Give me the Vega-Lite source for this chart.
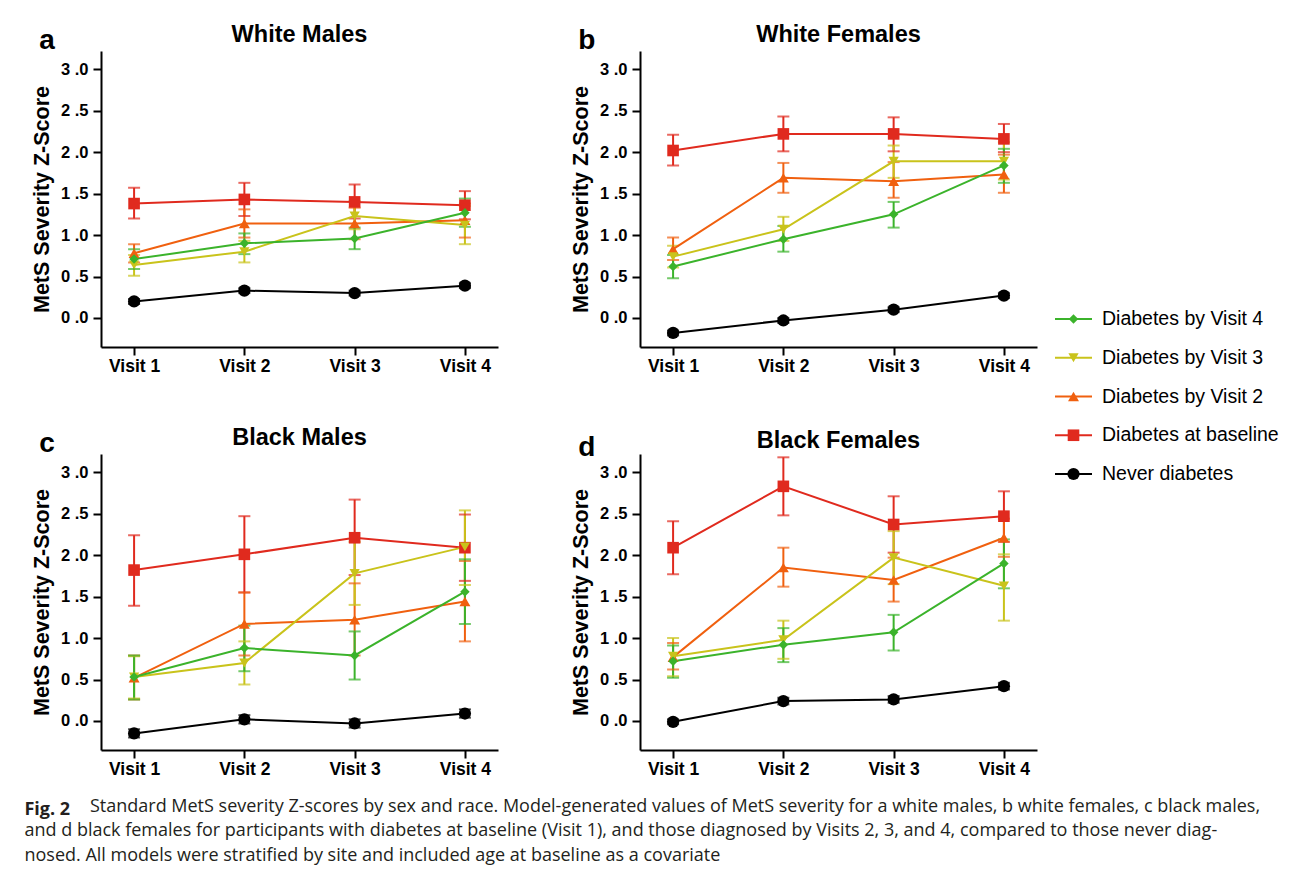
{
  "$schema": "https://vega.github.io/schema/vega-lite/v6.json",
  "padding": {"left": 24, "top": 22, "right": 5, "bottom": 5},
  "background": "white",
  "datasets": {
    "pts": [
      {"p":"a","g":"Never diabetes","v":1,"z":0.20,"lo":0.17,"hi":0.23},
      {"p":"a","g":"Never diabetes","v":2,"z":0.33,"lo":0.30,"hi":0.36},
      {"p":"a","g":"Never diabetes","v":3,"z":0.30,"lo":0.27,"hi":0.33},
      {"p":"a","g":"Never diabetes","v":4,"z":0.39,"lo":0.36,"hi":0.42},
      {"p":"a","g":"Diabetes at baseline","v":1,"z":1.38,"lo":1.20,"hi":1.57},
      {"p":"a","g":"Diabetes at baseline","v":2,"z":1.43,"lo":1.23,"hi":1.63},
      {"p":"a","g":"Diabetes at baseline","v":3,"z":1.40,"lo":1.20,"hi":1.61},
      {"p":"a","g":"Diabetes at baseline","v":4,"z":1.36,"lo":1.19,"hi":1.53},
      {"p":"a","g":"Diabetes by Visit 2","v":1,"z":0.78,"lo":0.67,"hi":0.89},
      {"p":"a","g":"Diabetes by Visit 2","v":2,"z":1.14,"lo":0.97,"hi":1.31},
      {"p":"a","g":"Diabetes by Visit 2","v":3,"z":1.14,"lo":0.95,"hi":1.33},
      {"p":"a","g":"Diabetes by Visit 2","v":4,"z":1.18,"lo":0.97,"hi":1.38},
      {"p":"a","g":"Diabetes by Visit 3","v":1,"z":0.64,"lo":0.51,"hi":0.76},
      {"p":"a","g":"Diabetes by Visit 3","v":2,"z":0.80,"lo":0.67,"hi":0.93},
      {"p":"a","g":"Diabetes by Visit 3","v":3,"z":1.23,"lo":1.07,"hi":1.41},
      {"p":"a","g":"Diabetes by Visit 3","v":4,"z":1.12,"lo":0.89,"hi":1.35},
      {"p":"a","g":"Diabetes by Visit 4","v":1,"z":0.71,"lo":0.59,"hi":0.83},
      {"p":"a","g":"Diabetes by Visit 4","v":2,"z":0.90,"lo":0.77,"hi":1.02},
      {"p":"a","g":"Diabetes by Visit 4","v":3,"z":0.96,"lo":0.83,"hi":1.09},
      {"p":"a","g":"Diabetes by Visit 4","v":4,"z":1.27,"lo":1.10,"hi":1.44},

      {"p":"b","g":"Never diabetes","v":1,"z":-0.18,"lo":-0.21,"hi":-0.15},
      {"p":"b","g":"Never diabetes","v":2,"z":-0.03,"lo":-0.06,"hi":0.00},
      {"p":"b","g":"Never diabetes","v":3,"z":0.10,"lo":0.07,"hi":0.13},
      {"p":"b","g":"Never diabetes","v":4,"z":0.27,"lo":0.24,"hi":0.30},
      {"p":"b","g":"Diabetes at baseline","v":1,"z":2.02,"lo":1.84,"hi":2.21},
      {"p":"b","g":"Diabetes at baseline","v":2,"z":2.22,"lo":2.01,"hi":2.43},
      {"p":"b","g":"Diabetes at baseline","v":3,"z":2.22,"lo":2.01,"hi":2.42},
      {"p":"b","g":"Diabetes at baseline","v":4,"z":2.16,"lo":2.00,"hi":2.34},
      {"p":"b","g":"Diabetes by Visit 2","v":1,"z":0.83,"lo":0.70,"hi":0.97},
      {"p":"b","g":"Diabetes by Visit 2","v":2,"z":1.69,"lo":1.51,"hi":1.87},
      {"p":"b","g":"Diabetes by Visit 2","v":3,"z":1.65,"lo":1.45,"hi":1.88},
      {"p":"b","g":"Diabetes by Visit 2","v":4,"z":1.73,"lo":1.51,"hi":1.97},
      {"p":"b","g":"Diabetes by Visit 3","v":1,"z":0.74,"lo":0.61,"hi":0.87},
      {"p":"b","g":"Diabetes by Visit 3","v":2,"z":1.07,"lo":0.93,"hi":1.22},
      {"p":"b","g":"Diabetes by Visit 3","v":3,"z":1.89,"lo":1.69,"hi":2.08},
      {"p":"b","g":"Diabetes by Visit 3","v":4,"z":1.89,"lo":1.67,"hi":2.12},
      {"p":"b","g":"Diabetes by Visit 4","v":1,"z":0.62,"lo":0.48,"hi":0.76},
      {"p":"b","g":"Diabetes by Visit 4","v":2,"z":0.95,"lo":0.80,"hi":1.11},
      {"p":"b","g":"Diabetes by Visit 4","v":3,"z":1.25,"lo":1.09,"hi":1.40},
      {"p":"b","g":"Diabetes by Visit 4","v":4,"z":1.84,"lo":1.63,"hi":2.04},

      {"p":"c","g":"Never diabetes","v":1,"z":-0.15,"lo":-0.20,"hi":-0.10},
      {"p":"c","g":"Never diabetes","v":2,"z":0.02,"lo":-0.03,"hi":0.07},
      {"p":"c","g":"Never diabetes","v":3,"z":-0.03,"lo":-0.08,"hi":0.02},
      {"p":"c","g":"Never diabetes","v":4,"z":0.09,"lo":0.04,"hi":0.14},
      {"p":"c","g":"Diabetes at baseline","v":1,"z":1.82,"lo":1.39,"hi":2.24},
      {"p":"c","g":"Diabetes at baseline","v":2,"z":2.01,"lo":1.55,"hi":2.47},
      {"p":"c","g":"Diabetes at baseline","v":3,"z":2.21,"lo":1.76,"hi":2.67},
      {"p":"c","g":"Diabetes at baseline","v":4,"z":2.09,"lo":1.69,"hi":2.49},
      {"p":"c","g":"Diabetes by Visit 2","v":1,"z":0.52,"lo":0.26,"hi":0.79},
      {"p":"c","g":"Diabetes by Visit 2","v":2,"z":1.17,"lo":0.79,"hi":1.55},
      {"p":"c","g":"Diabetes by Visit 2","v":3,"z":1.22,"lo":0.79,"hi":1.66},
      {"p":"c","g":"Diabetes by Visit 2","v":4,"z":1.44,"lo":0.96,"hi":1.93},
      {"p":"c","g":"Diabetes by Visit 3","v":1,"z":0.53,"lo":0.27,"hi":0.78},
      {"p":"c","g":"Diabetes by Visit 3","v":2,"z":0.70,"lo":0.44,"hi":0.96},
      {"p":"c","g":"Diabetes by Visit 3","v":3,"z":1.78,"lo":1.40,"hi":2.16},
      {"p":"c","g":"Diabetes by Visit 3","v":4,"z":2.10,"lo":1.64,"hi":2.54},
      {"p":"c","g":"Diabetes by Visit 4","v":1,"z":0.53,"lo":0.26,"hi":0.79},
      {"p":"c","g":"Diabetes by Visit 4","v":2,"z":0.88,"lo":0.60,"hi":1.15},
      {"p":"c","g":"Diabetes by Visit 4","v":3,"z":0.79,"lo":0.50,"hi":1.08},
      {"p":"c","g":"Diabetes by Visit 4","v":4,"z":1.56,"lo":1.17,"hi":1.95},

      {"p":"d","g":"Never diabetes","v":1,"z":-0.01,"lo":-0.04,"hi":0.02},
      {"p":"d","g":"Never diabetes","v":2,"z":0.24,"lo":0.20,"hi":0.28},
      {"p":"d","g":"Never diabetes","v":3,"z":0.26,"lo":0.22,"hi":0.30},
      {"p":"d","g":"Never diabetes","v":4,"z":0.42,"lo":0.38,"hi":0.46},
      {"p":"d","g":"Diabetes at baseline","v":1,"z":2.09,"lo":1.77,"hi":2.41},
      {"p":"d","g":"Diabetes at baseline","v":2,"z":2.83,"lo":2.48,"hi":3.18},
      {"p":"d","g":"Diabetes at baseline","v":3,"z":2.37,"lo":2.03,"hi":2.71},
      {"p":"d","g":"Diabetes at baseline","v":4,"z":2.47,"lo":2.16,"hi":2.77},
      {"p":"d","g":"Diabetes by Visit 2","v":1,"z":0.77,"lo":0.62,"hi":0.94},
      {"p":"d","g":"Diabetes by Visit 2","v":2,"z":1.85,"lo":1.62,"hi":2.09},
      {"p":"d","g":"Diabetes by Visit 2","v":3,"z":1.70,"lo":1.44,"hi":1.97},
      {"p":"d","g":"Diabetes by Visit 2","v":4,"z":2.21,"lo":1.98,"hi":2.44},
      {"p":"d","g":"Diabetes by Visit 3","v":1,"z":0.78,"lo":0.54,"hi":1.00},
      {"p":"d","g":"Diabetes by Visit 3","v":2,"z":0.98,"lo":0.75,"hi":1.21},
      {"p":"d","g":"Diabetes by Visit 3","v":3,"z":1.97,"lo":1.65,"hi":2.29},
      {"p":"d","g":"Diabetes by Visit 3","v":4,"z":1.63,"lo":1.21,"hi":2.01},
      {"p":"d","g":"Diabetes by Visit 4","v":1,"z":0.72,"lo":0.52,"hi":0.91},
      {"p":"d","g":"Diabetes by Visit 4","v":2,"z":0.92,"lo":0.71,"hi":1.12},
      {"p":"d","g":"Diabetes by Visit 4","v":3,"z":1.07,"lo":0.85,"hi":1.28},
      {"p":"d","g":"Diabetes by Visit 4","v":4,"z":1.90,"lo":1.60,"hi":2.19}
    ],
    "letters": [
      {"p":"a","letter":"a"},
      {"p":"b","letter":"b"},
      {"p":"c","letter":"c"},
      {"p":"d","letter":"d"}
    ],
    "legend": [
      {"g":"Diabetes by Visit 4"},
      {"g":"Diabetes by Visit 3"},
      {"g":"Diabetes by Visit 2"},
      {"g":"Diabetes at baseline"},
      {"g":"Never diabetes"}
    ]
  },
  "title": {
    "text": "Fig. 2",
    "subtitle": [
      "\u200b\u00a0\u00a0\u00a0\u00a0\u00a0\u00a0\u00a0\u00a0\u00a0\u00a0\u00a0\u00a0\u00a0\u00a0Standard MetS severity Z-scores by sex and race. Model-generated values of MetS severity for a white males, b white females, c black males,",
      "and d black females for participants with diabetes at baseline (Visit 1), and those diagnosed by Visits 2, 3, and 4, compared to those never diag-",
      "nosed. All models were stratified by site and included age at baseline as a covariate"
    ],
    "orient": "bottom",
    "anchor": "start",
    "frame": "bounds",
    "font": "Open Sans",
    "fontSize": 18,
    "fontWeight": "bold",
    "color": "#231f20",
    "subtitleFont": "Open Sans",
    "subtitleFontSize": 18,
    "subtitleFontWeight": "normal",
    "subtitleColor": "#231f20",
    "subtitleLineHeight": 24.5,
    "subtitlePadding": -21,
    "offset": 23,
    "dx": -7
  },
  "spacing": 17,
  "hconcat": [
    {
      "spacing": 50,
      "vconcat": [
        {
          "spacing": 72,
          "hconcat": [
            {
              "width": 397, "height": 296,
              "title": {"text": "White Males"},
              "layer": [
                {"data": {"name": "pts"}, "transform": [{"filter": "datum.p == 'a'"}],
                 "mark": {"type": "rule", "strokeWidth": 2},
                 "encoding": {
                   "x": {"field": "v", "type": "quantitative", "scale": {"domain": [0.7, 4.3], "nice": false, "zero": false}, "axis": {"values": [1,2,3,4], "labelExpr": "'Visit ' + datum.value", "title": null, "labelPadding": 2, "labelFlush": false}},
                   "y": {"field": "lo", "type": "quantitative", "scale": {"domain": [-0.35, 3.22], "nice": false, "zero": false}, "axis": {"values": [0,0.5,1,1.5,2,2.5,3], "labelExpr": "replace(format(datum.value, '.1f'), '.', ' .')", "labelFontSize": 16.5, "labelPadding": 5, "title": "MetS Severity Z-Score", "titlePadding": 7}},
                   "y2": {"field": "hi"},
                   "color": {"field": "g", "type": "nominal", "scale": {"domain": ["Diabetes by Visit 4","Diabetes by Visit 3","Diabetes by Visit 2","Diabetes at baseline","Never diabetes"], "range": ["#3bb32b","#c9c31b","#f0600f","#e02a1e","#000000"]}, "legend": null}
                 }},
                {"data": {"name": "pts"}, "transform": [{"filter": "datum.p == 'a'"}],
                 "mark": {"type": "tick", "orient": "horizontal", "thickness": 2, "size": 12},
                 "encoding": {"x": {"field": "v", "type": "quantitative"}, "y": {"field": "lo", "type": "quantitative"}, "color": {"field": "g", "type": "nominal", "legend": null}}},
                {"data": {"name": "pts"}, "transform": [{"filter": "datum.p == 'a'"}],
                 "mark": {"type": "tick", "orient": "horizontal", "thickness": 2, "size": 12},
                 "encoding": {"x": {"field": "v", "type": "quantitative"}, "y": {"field": "hi", "type": "quantitative"}, "color": {"field": "g", "type": "nominal", "legend": null}}},
                {"data": {"name": "pts"}, "transform": [{"filter": "datum.p == 'a'"}],
                 "mark": {"type": "line", "strokeWidth": 2},
                 "encoding": {"x": {"field": "v", "type": "quantitative"}, "y": {"field": "z", "type": "quantitative"}, "color": {"field": "g", "type": "nominal", "legend": null}}},
                {"data": {"name": "pts"}, "transform": [{"filter": "datum.p == 'a'"}],
                 "mark": {"type": "point", "filled": true, "opacity": 1},
                 "encoding": {"x": {"field": "v", "type": "quantitative"}, "y": {"field": "z", "type": "quantitative"}, "color": {"field": "g", "type": "nominal", "legend": null},
                   "shape": {"field": "g", "type": "nominal", "scale": {"domain": ["Diabetes by Visit 4","Diabetes by Visit 3","Diabetes by Visit 2","Diabetes at baseline","Never diabetes"], "range": ["diamond","triangle-down","triangle-up","square","circle"]}, "legend": null},
                   "size": {"field": "g", "type": "ordinal", "scale": {"domain": ["Diabetes by Visit 4","Diabetes by Visit 3","Diabetes by Visit 2","Diabetes at baseline","Never diabetes"], "range": [90,150,140,130,120]}, "legend": null}}},
                {"data": {"name": "letters"}, "transform": [{"filter": "datum.p == 'a'"}],
                 "mark": {"type": "text", "align": "left", "baseline": "alphabetic", "fontSize": 28, "fontWeight": "bold", "font": "Liberation Sans", "color": "black"},
                 "encoding": {"x": {"datum": 0.14, "type": "quantitative"}, "y": {"datum": 3.24, "type": "quantitative"}, "text": {"field": "letter"}}}
              ]
            },
            {
              "width": 397, "height": 296,
              "title": {"text": "White Females"},
              "layer": [
                {"data": {"name": "pts"}, "transform": [{"filter": "datum.p == 'b'"}],
                 "mark": {"type": "rule", "strokeWidth": 2},
                 "encoding": {
                   "x": {"field": "v", "type": "quantitative", "scale": {"domain": [0.7, 4.3], "nice": false, "zero": false}, "axis": {"values": [1,2,3,4], "labelExpr": "'Visit ' + datum.value", "title": null, "labelPadding": 2, "labelFlush": false}},
                   "y": {"field": "lo", "type": "quantitative", "scale": {"domain": [-0.35, 3.22], "nice": false, "zero": false}, "axis": {"values": [0,0.5,1,1.5,2,2.5,3], "labelExpr": "replace(format(datum.value, '.1f'), '.', ' .')", "labelFontSize": 16.5, "labelPadding": 5, "title": "MetS Severity Z-Score", "titlePadding": 7}},
                   "y2": {"field": "hi"},
                   "color": {"field": "g", "type": "nominal", "scale": {"domain": ["Diabetes by Visit 4","Diabetes by Visit 3","Diabetes by Visit 2","Diabetes at baseline","Never diabetes"], "range": ["#3bb32b","#c9c31b","#f0600f","#e02a1e","#000000"]}, "legend": null}
                 }},
                {"data": {"name": "pts"}, "transform": [{"filter": "datum.p == 'b'"}],
                 "mark": {"type": "tick", "orient": "horizontal", "thickness": 2, "size": 12},
                 "encoding": {"x": {"field": "v", "type": "quantitative"}, "y": {"field": "lo", "type": "quantitative"}, "color": {"field": "g", "type": "nominal", "legend": null}}},
                {"data": {"name": "pts"}, "transform": [{"filter": "datum.p == 'b'"}],
                 "mark": {"type": "tick", "orient": "horizontal", "thickness": 2, "size": 12},
                 "encoding": {"x": {"field": "v", "type": "quantitative"}, "y": {"field": "hi", "type": "quantitative"}, "color": {"field": "g", "type": "nominal", "legend": null}}},
                {"data": {"name": "pts"}, "transform": [{"filter": "datum.p == 'b'"}],
                 "mark": {"type": "line", "strokeWidth": 2},
                 "encoding": {"x": {"field": "v", "type": "quantitative"}, "y": {"field": "z", "type": "quantitative"}, "color": {"field": "g", "type": "nominal", "legend": null}}},
                {"data": {"name": "pts"}, "transform": [{"filter": "datum.p == 'b'"}],
                 "mark": {"type": "point", "filled": true, "opacity": 1},
                 "encoding": {"x": {"field": "v", "type": "quantitative"}, "y": {"field": "z", "type": "quantitative"}, "color": {"field": "g", "type": "nominal", "legend": null},
                   "shape": {"field": "g", "type": "nominal", "scale": {"domain": ["Diabetes by Visit 4","Diabetes by Visit 3","Diabetes by Visit 2","Diabetes at baseline","Never diabetes"], "range": ["diamond","triangle-down","triangle-up","square","circle"]}, "legend": null},
                   "size": {"field": "g", "type": "ordinal", "scale": {"domain": ["Diabetes by Visit 4","Diabetes by Visit 3","Diabetes by Visit 2","Diabetes at baseline","Never diabetes"], "range": [90,150,140,130,120]}, "legend": null}}},
                {"data": {"name": "letters"}, "transform": [{"filter": "datum.p == 'b'"}],
                 "mark": {"type": "text", "align": "left", "baseline": "alphabetic", "fontSize": 28, "fontWeight": "bold", "font": "Liberation Sans", "color": "black"},
                 "encoding": {"x": {"datum": 0.14, "type": "quantitative"}, "y": {"datum": 3.24, "type": "quantitative"}, "text": {"field": "letter"}}}
              ]
            }
          ]
        },
        {
          "spacing": 72,
          "hconcat": [
            {
              "width": 397, "height": 296,
              "title": {"text": "Black Males"},
              "layer": [
                {"data": {"name": "pts"}, "transform": [{"filter": "datum.p == 'c'"}],
                 "mark": {"type": "rule", "strokeWidth": 2},
                 "encoding": {
                   "x": {"field": "v", "type": "quantitative", "scale": {"domain": [0.7, 4.3], "nice": false, "zero": false}, "axis": {"values": [1,2,3,4], "labelExpr": "'Visit ' + datum.value", "title": null, "labelPadding": 2, "labelFlush": false}},
                   "y": {"field": "lo", "type": "quantitative", "scale": {"domain": [-0.35, 3.22], "nice": false, "zero": false}, "axis": {"values": [0,0.5,1,1.5,2,2.5,3], "labelExpr": "replace(format(datum.value, '.1f'), '.', ' .')", "labelFontSize": 16.5, "labelPadding": 5, "title": "MetS Severity Z-Score", "titlePadding": 7}},
                   "y2": {"field": "hi"},
                   "color": {"field": "g", "type": "nominal", "scale": {"domain": ["Diabetes by Visit 4","Diabetes by Visit 3","Diabetes by Visit 2","Diabetes at baseline","Never diabetes"], "range": ["#3bb32b","#c9c31b","#f0600f","#e02a1e","#000000"]}, "legend": null}
                 }},
                {"data": {"name": "pts"}, "transform": [{"filter": "datum.p == 'c'"}],
                 "mark": {"type": "tick", "orient": "horizontal", "thickness": 2, "size": 12},
                 "encoding": {"x": {"field": "v", "type": "quantitative"}, "y": {"field": "lo", "type": "quantitative"}, "color": {"field": "g", "type": "nominal", "legend": null}}},
                {"data": {"name": "pts"}, "transform": [{"filter": "datum.p == 'c'"}],
                 "mark": {"type": "tick", "orient": "horizontal", "thickness": 2, "size": 12},
                 "encoding": {"x": {"field": "v", "type": "quantitative"}, "y": {"field": "hi", "type": "quantitative"}, "color": {"field": "g", "type": "nominal", "legend": null}}},
                {"data": {"name": "pts"}, "transform": [{"filter": "datum.p == 'c'"}],
                 "mark": {"type": "line", "strokeWidth": 2},
                 "encoding": {"x": {"field": "v", "type": "quantitative"}, "y": {"field": "z", "type": "quantitative"}, "color": {"field": "g", "type": "nominal", "legend": null}}},
                {"data": {"name": "pts"}, "transform": [{"filter": "datum.p == 'c'"}],
                 "mark": {"type": "point", "filled": true, "opacity": 1},
                 "encoding": {"x": {"field": "v", "type": "quantitative"}, "y": {"field": "z", "type": "quantitative"}, "color": {"field": "g", "type": "nominal", "legend": null},
                   "shape": {"field": "g", "type": "nominal", "scale": {"domain": ["Diabetes by Visit 4","Diabetes by Visit 3","Diabetes by Visit 2","Diabetes at baseline","Never diabetes"], "range": ["diamond","triangle-down","triangle-up","square","circle"]}, "legend": null},
                   "size": {"field": "g", "type": "ordinal", "scale": {"domain": ["Diabetes by Visit 4","Diabetes by Visit 3","Diabetes by Visit 2","Diabetes at baseline","Never diabetes"], "range": [90,150,140,130,120]}, "legend": null}}},
                {"data": {"name": "letters"}, "transform": [{"filter": "datum.p == 'c'"}],
                 "mark": {"type": "text", "align": "left", "baseline": "alphabetic", "fontSize": 28, "fontWeight": "bold", "font": "Liberation Sans", "color": "black"},
                 "encoding": {"x": {"datum": 0.14, "type": "quantitative"}, "y": {"datum": 3.24, "type": "quantitative"}, "text": {"field": "letter"}}}
              ]
            },
            {
              "width": 397, "height": 296,
              "title": {"text": "Black Females"},
              "layer": [
                {"data": {"name": "pts"}, "transform": [{"filter": "datum.p == 'd'"}],
                 "mark": {"type": "rule", "strokeWidth": 2},
                 "encoding": {
                   "x": {"field": "v", "type": "quantitative", "scale": {"domain": [0.7, 4.3], "nice": false, "zero": false}, "axis": {"values": [1,2,3,4], "labelExpr": "'Visit ' + datum.value", "title": null, "labelPadding": 2, "labelFlush": false}},
                   "y": {"field": "lo", "type": "quantitative", "scale": {"domain": [-0.35, 3.22], "nice": false, "zero": false}, "axis": {"values": [0,0.5,1,1.5,2,2.5,3], "labelExpr": "replace(format(datum.value, '.1f'), '.', ' .')", "labelFontSize": 16.5, "labelPadding": 5, "title": "MetS Severity Z-Score", "titlePadding": 7}},
                   "y2": {"field": "hi"},
                   "color": {"field": "g", "type": "nominal", "scale": {"domain": ["Diabetes by Visit 4","Diabetes by Visit 3","Diabetes by Visit 2","Diabetes at baseline","Never diabetes"], "range": ["#3bb32b","#c9c31b","#f0600f","#e02a1e","#000000"]}, "legend": null}
                 }},
                {"data": {"name": "pts"}, "transform": [{"filter": "datum.p == 'd'"}],
                 "mark": {"type": "tick", "orient": "horizontal", "thickness": 2, "size": 12},
                 "encoding": {"x": {"field": "v", "type": "quantitative"}, "y": {"field": "lo", "type": "quantitative"}, "color": {"field": "g", "type": "nominal", "legend": null}}},
                {"data": {"name": "pts"}, "transform": [{"filter": "datum.p == 'd'"}],
                 "mark": {"type": "tick", "orient": "horizontal", "thickness": 2, "size": 12},
                 "encoding": {"x": {"field": "v", "type": "quantitative"}, "y": {"field": "hi", "type": "quantitative"}, "color": {"field": "g", "type": "nominal", "legend": null}}},
                {"data": {"name": "pts"}, "transform": [{"filter": "datum.p == 'd'"}],
                 "mark": {"type": "line", "strokeWidth": 2},
                 "encoding": {"x": {"field": "v", "type": "quantitative"}, "y": {"field": "z", "type": "quantitative"}, "color": {"field": "g", "type": "nominal", "legend": null}}},
                {"data": {"name": "pts"}, "transform": [{"filter": "datum.p == 'd'"}],
                 "mark": {"type": "point", "filled": true, "opacity": 1},
                 "encoding": {"x": {"field": "v", "type": "quantitative"}, "y": {"field": "z", "type": "quantitative"}, "color": {"field": "g", "type": "nominal", "legend": null},
                   "shape": {"field": "g", "type": "nominal", "scale": {"domain": ["Diabetes by Visit 4","Diabetes by Visit 3","Diabetes by Visit 2","Diabetes at baseline","Never diabetes"], "range": ["diamond","triangle-down","triangle-up","square","circle"]}, "legend": null},
                   "size": {"field": "g", "type": "ordinal", "scale": {"domain": ["Diabetes by Visit 4","Diabetes by Visit 3","Diabetes by Visit 2","Diabetes at baseline","Never diabetes"], "range": [90,150,140,130,120]}, "legend": null}}},
                {"data": {"name": "letters"}, "transform": [{"filter": "datum.p == 'd'"}],
                 "mark": {"type": "text", "align": "left", "baseline": "alphabetic", "fontSize": 28, "fontWeight": "bold", "font": "Liberation Sans", "color": "black"},
                 "encoding": {"x": {"datum": 0.14, "type": "quantitative"}, "y": {"datum": 3.2, "type": "quantitative"}, "text": {"field": "letter"}}}
              ]
            }
          ]
        }
      ]
    },
    {
      "width": 37, "height": 440,
      "data": {"name": "legend"},
      "encoding": {
        "y": {"field": "g", "type": "nominal", "scale": {"type": "point", "domain": ["Diabetes by Visit 4","Diabetes by Visit 3","Diabetes by Visit 2","Diabetes at baseline","Never diabetes"], "range": [268, 423], "padding": 0}, "axis": null}
      },
      "layer": [
        {"mark": {"type": "rule", "strokeWidth": 2},
         "encoding": {"x": {"datum": 0, "type": "quantitative", "scale": {"domain": [0, 1], "nice": false}, "axis": null}, "x2": {"datum": 1},
           "color": {"field": "g", "type": "nominal", "scale": {"domain": ["Diabetes by Visit 4","Diabetes by Visit 3","Diabetes by Visit 2","Diabetes at baseline","Never diabetes"], "range": ["#3bb32b","#c9c31b","#f0600f","#e02a1e","#000000"]}, "legend": null}}},
        {"mark": {"type": "point", "filled": true, "opacity": 1},
         "encoding": {"x": {"datum": 0.5, "type": "quantitative"},
           "color": {"field": "g", "type": "nominal", "legend": null},
           "shape": {"field": "g", "type": "nominal", "scale": {"domain": ["Diabetes by Visit 4","Diabetes by Visit 3","Diabetes by Visit 2","Diabetes at baseline","Never diabetes"], "range": ["diamond","triangle-down","triangle-up","square","circle"]}, "legend": null},
           "size": {"field": "g", "type": "ordinal", "scale": {"domain": ["Diabetes by Visit 4","Diabetes by Visit 3","Diabetes by Visit 2","Diabetes at baseline","Never diabetes"], "range": [90,150,140,130,130]}, "legend": null}}},
        {"mark": {"type": "text", "align": "left", "baseline": "middle", "dx": 10, "fontSize": 19.5, "font": "Liberation Sans", "color": "black"},
         "encoding": {"x": {"datum": 1, "type": "quantitative"}, "text": {"field": "g"}}}
      ]
    }
  ],
  "config": {
    "font": "Liberation Sans",
    "view": {"stroke": null},
    "axis": {
      "grid": false,
      "domainColor": "black", "domainWidth": 2,
      "tickColor": "black", "tickWidth": 2, "tickSize": 8,
      "labelFont": "Liberation Sans", "labelFontWeight": "bold", "labelFontSize": 17.5, "labelColor": "black",
      "titleFont": "Liberation Sans", "titleFontWeight": "bold", "titleFontSize": 21.5, "titleColor": "black"
    },
    "title": {"font": "Liberation Sans", "fontSize": 23.5, "fontWeight": "bold", "color": "black", "anchor": "middle", "frame": "group", "offset": -19}
  }
}
